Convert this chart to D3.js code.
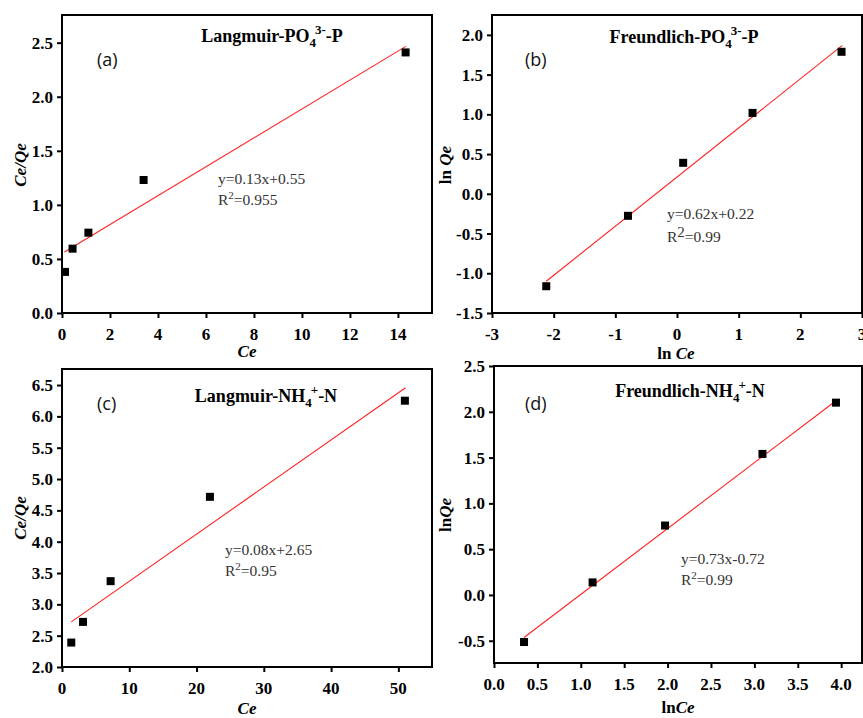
<!DOCTYPE html>
<html>
<head>
<meta charset="utf-8">
<script src="https://cdn.jsdelivr.net/npm/d3@7"></script>
<style>
  body { margin: 0; background: #fff; }
  svg { display: block; }
  .ttl { font-family: "Liberation Serif", serif; font-weight: bold; font-size: 18px; }
  .axt { font-family: "Liberation Serif", serif; font-weight: bold; font-size: 17px; }
  .eq { font-family: "Liberation Serif", serif; font-size: 15.5px; fill: #333; }
  .lab { font-family: "Open Sans", "Noto Sans", sans-serif; font-size: 18px; fill: #111; }
  .tk { font-family: "Liberation Serif", serif; font-weight: bold; font-size: 17px; fill: #000; }
</style>
</head>
<body>
<svg width="863" height="718"></svg>
<script>
// data
var langP_Ce = [0.125, 0.44, 1.1, 3.4, 14.32];
var langP_CeQe = [0.38, 0.595, 0.743, 1.23, 2.41];
var langP_fit = [[0.1, 0.565], [14.33, 2.466]];

var freuP_lnCe = [-2.12, -0.795, 0.1, 1.225, 2.668];
var freuP_lnQe = [-1.163, -0.277, 0.39, 1.018, 1.787];
var freuP_fit = [[-2.12, -1.1], [2.68, 1.867]];

var langN_Ce = [1.38, 3.12, 7.23, 21.99, 50.97];
var langN_CeQe = [2.39, 2.72, 3.37, 4.716, 6.25];
var langN_fit = [[1.38, 2.72], [51.07, 6.457]];

var freuN_lnCe = [0.346, 1.136, 1.971, 3.093, 3.94];
var freuN_lnQe = [-0.514, 0.137, 0.758, 1.54, 2.1];
var freuN_fit = [[0.346, -0.464], [3.94, 2.12]];

var ticksA_x = [0, 2, 4, 6, 8, 10, 12, 14], ticksA_y = [0, 0.5, 1, 1.5, 2, 2.5];
var ticksB_x = [-3, -2, -1, 0, 1, 2, 3], ticksB_y = [-1.5, -1, -0.5, 0, 0.5, 1, 1.5, 2];
var ticksC_x = [0, 10, 20, 30, 40, 50], ticksC_y = [2, 2.5, 3, 3.5, 4, 4.5, 5, 5.5, 6, 6.5];
var ticksD_x = [0, 0.5, 1, 1.5, 2, 2.5, 3, 3.5, 4], ticksD_y = [-0.5, 0, 0.5, 1, 1.5, 2, 2.5];

var svg = d3.select("svg");
var fmt1 = function (d) { return d.toFixed(1); };
var fmt0 = function (d) { return String(d); };

var panels = [
  { box: [62, 432, 15, 313], xd: [0, 15.42], yd: [0, 2.756], xs: langP_Ce, ys: langP_CeQe, fit: langP_fit,
    xt: ticksA_x, yt: ticksA_y, xf: fmt0, yf: fmt1, lab: "(a)", labPos: [97, 66],
    title: ["Langmuir-PO", "4", "3-", "-P"], titlePos: [272, 42],
    eq: ["y=0.13x+0.55", "0.955"], eqPos: [218, 184], r2big: false,
    xTitle: [["", "Ce"]], xTitlePos: [247, 357], yTitle: [["", "Ce/Qe"]], yTitlePos: [20, 165] },
  { box: [492, 862, 15, 313], xd: [-3, 3], yd: [-1.5, 2.25], xs: freuP_lnCe, ys: freuP_lnQe, fit: freuP_fit,
    xt: ticksB_x, yt: ticksB_y, xf: fmt0, yf: fmt1, lab: "(b)", labPos: [525, 66],
    title: ["Freundlich-PO", "4", "3-", "-P"], titlePos: [684, 43],
    eq: ["y=0.62x+0.22", "0.99"], eqPos: [667, 219], r2big: true,
    xTitle: [["ln ", "Ce"]], xTitlePos: [676, 359], yTitle: [["ln ", "Qe"]], yTitlePos: [445, 165] },
  { box: [62, 432, 369, 667], xd: [0, 55], yd: [2, 6.756], xs: langN_Ce, ys: langN_CeQe, fit: langN_fit,
    xt: ticksC_x, yt: ticksC_y, xf: fmt0, yf: fmt1, lab: "(c)", labPos: [97, 410],
    title: ["Langmuir-NH", "4", "+", "-N"], titlePos: [266, 402],
    eq: ["y=0.08x+2.65", "0.95"], eqPos: [225, 555], r2big: false,
    xTitle: [["", "Ce"]], xTitlePos: [247, 714], yTitle: [["", "Ce/Qe"]], yTitlePos: [20, 518] },
  { box: [494, 862, 366, 663], xd: [0, 4.24], yd: [-0.743, 2.5], xs: freuN_lnCe, ys: freuN_lnQe, fit: freuN_fit,
    xt: ticksD_x, yt: ticksD_y, xf: fmt1, yf: fmt1, lab: "(d)", labPos: [525, 410],
    title: ["Freundlich-NH", "4", "+", "-N"], titlePos: [690, 397],
    eq: ["y=0.73x-0.72", "0.99"], eqPos: [681, 564], r2big: false,
    xTitle: [["ln", "Ce"]], xTitlePos: [678, 713], yTitle: [["ln", "Qe"]], yTitlePos: [445, 515] }
];

panels.forEach(function (p) {
  var x = d3.scaleLinear().domain(p.xd).range([p.box[0], p.box[1]]);
  var y = d3.scaleLinear().domain(p.yd).range([p.box[3], p.box[2]]);
  var g = svg.append("g");

  // fit line
  g.append("line")
    .attr("x1", x(p.fit[0][0])).attr("y1", y(p.fit[0][1]))
    .attr("x2", x(p.fit[1][0])).attr("y2", y(p.fit[1][1]))
    .style("stroke", "#ff2020").style("stroke-width", 1.1);

  // points
  g.selectAll("rect.pt")
    .data(p.xs.map(function (d, i) { return [d, p.ys[i]]; }))
    .enter()
    .append("rect")
    .attr("class", "pt")
    .attr("x", function (d) { return x(d[0]) - 4; })
    .attr("y", function (d) { return y(d[1]) - 4; })
    .attr("width", 8).attr("height", 8)
    .style("fill", "#000");

  // axes: tick marks from d3.axis, labels as own serif text
  var xa = g.append("g").attr("transform", "translate(0," + p.box[3] + ")")
    .call(d3.axisBottom(x).tickValues(p.xt).tickFormat("").tickSize(5).tickSizeOuter(0));
  var ya = g.append("g").attr("transform", "translate(" + p.box[0] + ",0)")
    .call(d3.axisLeft(y).tickValues(p.yt).tickFormat("").tickSize(5).tickSizeOuter(0));
  [xa, ya].forEach(function (a) {
    a.select(".domain").remove();
    a.selectAll(".tick line").style("stroke", "#000").style("stroke-width", 2);
  });

  g.selectAll("text.xtk")
    .data(p.xt)
    .enter()
    .append("text")
    .attr("class", "tk xtk")
    .attr("x", function (d) { return x(d); })
    .attr("y", p.box[3] + 27)
    .attr("text-anchor", "middle")
    .text(p.xf);

  g.selectAll("text.ytk")
    .data(p.yt)
    .enter()
    .append("text")
    .attr("class", "tk ytk")
    .attr("x", p.box[0] - 9)
    .attr("y", function (d) { return y(d) + 6; })
    .attr("text-anchor", "end")
    .text(p.yf);

  // frame
  g.append("rect")
    .attr("x", p.box[0]).attr("y", p.box[2])
    .attr("width", p.box[1] - p.box[0]).attr("height", p.box[3] - p.box[2])
    .style("fill", "none").style("stroke", "#000").style("stroke-width", 2);

  // panel letter
  g.append("text").attr("class", "lab").attr("x", p.labPos[0]).attr("y", p.labPos[1]).text(p.lab);

  // title with sub/superscript
  var t = g.append("text").attr("class", "ttl")
    .attr("x", p.titlePos[0]).attr("y", p.titlePos[1]).attr("text-anchor", "middle");
  t.append("tspan").text(p.title[0]);
  t.append("tspan").attr("dy", 5).style("font-size", "13px").text(p.title[1]);
  t.append("tspan").attr("dx", -1).attr("dy", -13).style("font-size", "13px").text(p.title[2]);
  t.append("tspan").attr("dy", 8).text(p.title[3]);

  // equation
  g.append("text").attr("class", "eq").attr("x", p.eqPos[0]).attr("y", p.eqPos[1]).text(p.eq[0]);
  var r = g.append("text").attr("class", "eq").attr("x", p.eqPos[0]).attr("y", p.eqPos[1] + (p.r2big ? 23 : 21));
  r.append("tspan").text("R");
  r.append("tspan").attr("dy", p.r2big ? -5 : -6).style("font-size", p.r2big ? "15px" : "11px").text("2");
  r.append("tspan").attr("dy", p.r2big ? 5 : 6).text("=" + p.eq[1]);

  // axis titles
  var xt = g.append("text").attr("class", "axt")
    .attr("x", p.xTitlePos[0]).attr("y", p.xTitlePos[1]).attr("text-anchor", "middle");
  xt.append("tspan").text(p.xTitle[0][0]);
  xt.append("tspan").style("font-style", "italic").text(p.xTitle[0][1]);

  var yt = g.append("text").attr("class", "axt")
    .attr("transform", "translate(" + p.yTitlePos[0] + "," + p.yTitlePos[1] + ") rotate(-90)")
    .attr("text-anchor", "middle").attr("dy", "0.35em");
  yt.append("tspan").text(p.yTitle[0][0]);
  yt.append("tspan").style("font-style", "italic").text(p.yTitle[0][1]);
});
</script>
</body>
</html>
